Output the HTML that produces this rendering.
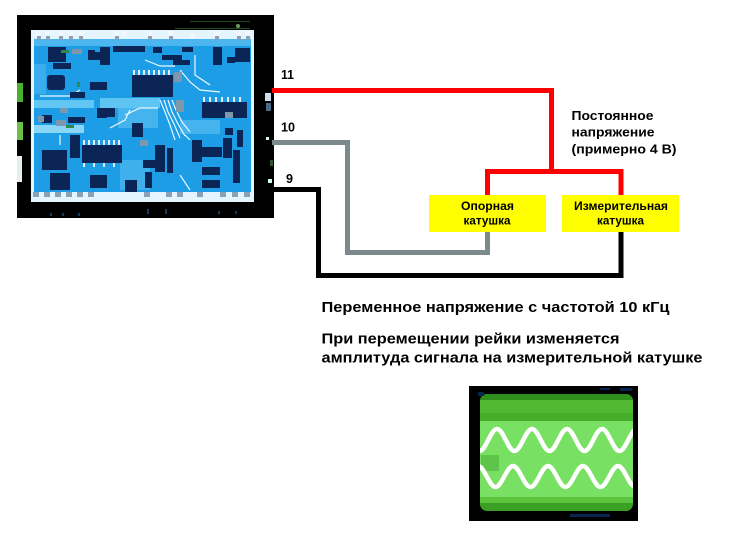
<!DOCTYPE html>
<html>
<head>
<meta charset="utf-8">
<style>
  html, body { margin: 0; padding: 0; background: #ffffff; }
  body { width: 731px; height: 549px; overflow: hidden; }
  svg { display: block; }
  text { font-family: "Liberation Sans", "DejaVu Sans", sans-serif; font-weight: bold; fill: #000; }
</style>
</head>
<body>
<svg width="731" height="549" viewBox="0 0 731 549" xmlns="http://www.w3.org/2000/svg">
  <rect x="0" y="0" width="731" height="549" fill="#ffffff"/>

  <!-- ================= PCB photo ================= -->
  <rect x="17" y="15" width="257" height="203" fill="#000000"/>
  <rect x="17" y="83" width="6" height="19" fill="#4caf30"/>
  <rect x="17" y="122" width="6" height="18" fill="#6cc048"/>
  <rect x="17" y="156" width="5" height="26" fill="#e6eef0"/>
  <rect x="190" y="21" width="60" height="1" fill="#1c4a1c"/>
  <rect x="175" y="28" width="75" height="1" fill="#1c4a1c"/>
  <circle cx="238" cy="26" r="2" fill="#6a9a5a"/>
  <rect x="265" y="93" width="6" height="8" fill="#d0dde8"/>
  <rect x="266" y="103" width="5" height="8" fill="#4a6a8a"/>
  <rect x="266" y="137" width="3" height="3" fill="#cfe"/>
  <rect x="268" y="179" width="4" height="4" fill="#cfe"/>
  <rect x="270" y="160" width="3" height="6" fill="#2a5a2a"/>

  <!-- board -->
  <rect x="31" y="30" width="223" height="172" fill="#e4f5ff"/>
  <rect x="34" y="39" width="217" height="153" fill="#1c9de6"/>
  <rect x="34" y="39" width="217" height="7" fill="#4db6ee"/>
  <rect x="100" y="98" width="60" height="10" fill="#5ec4f2"/>
  <rect x="34" y="100" width="60" height="8" fill="#62c6f2"/>
  <rect x="34" y="125" width="50" height="8" fill="#8ad6f6"/>
  <rect x="120" y="160" width="30" height="30" fill="#3fb0ec"/>
  <rect x="118" y="108" width="40" height="20" fill="#45b4ee"/>
  <rect x="180" y="120" width="40" height="14" fill="#45b4ee"/>
  <rect x="34" y="64" width="12" height="30" fill="#3aaeec"/>

  <g stroke="#e8f8ff" stroke-width="1.2" fill="none">
    <path d="M160 100 L165 112 L170 125 L175 140"/>
    <path d="M164 100 L168 112 L174 124 L180 138"/>
    <path d="M168 100 L172 112 L178 124 L185 136"/>
    <path d="M172 100 L176 110 L182 122 L190 132"/>
    <path d="M180 70 L190 82 L200 90 L220 92"/>
    <path d="M125 115 L140 108 L158 108"/>
    <path d="M180 175 L190 190"/>
    <path d="M195 55 L195 75 L210 85"/>
    <path d="M40 96 L70 96 L80 90"/>
    <path d="M145 60 L160 66 L175 66"/>
    <path d="M110 128 L125 120 L130 110"/>
    <path d="M185 135 L190 140"/>
    <path d="M60 135 L60 145"/>
  </g>

  <g fill="#f2f8ff">
    <rect x="36" y="31" width="5" height="5"/>
    <rect x="45" y="31" width="5" height="5"/>
    <rect x="58" y="31" width="5" height="5"/>
    <rect x="68" y="31" width="5" height="5"/>
    <rect x="78" y="31" width="5" height="5"/>
    <rect x="114" y="31" width="5" height="5"/>
    <rect x="122" y="31" width="5" height="5"/>
    <rect x="147" y="31" width="5" height="5"/>
    <rect x="168" y="31" width="5" height="5"/>
    <rect x="190" y="33" width="5" height="5"/>
    <rect x="214" y="31" width="5" height="5"/>
    <rect x="236" y="31" width="5" height="5"/>
    <rect x="245" y="31" width="5" height="5"/>
  </g>
  <g fill="#8aa2b8">
    <rect x="37" y="36" width="4" height="4"/>
    <rect x="46" y="36" width="4" height="4"/>
    <rect x="59" y="36" width="4" height="4"/>
    <rect x="69" y="36" width="4" height="4"/>
    <rect x="79" y="36" width="4" height="4"/>
    <rect x="115" y="36" width="4" height="4"/>
    <rect x="148" y="36" width="4" height="4"/>
    <rect x="169" y="36" width="4" height="4"/>
    <rect x="215" y="36" width="4" height="4"/>
    <rect x="237" y="36" width="4" height="4"/>
    <rect x="246" y="36" width="4" height="4"/>
  </g>
  <g fill="#8aa2b8">
    <rect x="33" y="192" width="6" height="5"/>
    <rect x="44" y="192" width="6" height="5"/>
    <rect x="55" y="192" width="6" height="5"/>
    <rect x="66" y="192" width="6" height="5"/>
    <rect x="77" y="192" width="6" height="5"/>
    <rect x="88" y="192" width="6" height="5"/>
    <rect x="144" y="192" width="6" height="5"/>
    <rect x="166" y="192" width="6" height="5"/>
    <rect x="177" y="192" width="6" height="5"/>
    <rect x="197" y="192" width="6" height="5"/>
    <rect x="220" y="192" width="6" height="5"/>
    <rect x="232" y="192" width="6" height="5"/>
    <rect x="244" y="192" width="6" height="5"/>
  </g>
  <g fill="#1a3a5a">
    <rect x="50" y="213" width="2" height="3"/>
    <rect x="62" y="213" width="2" height="3"/>
    <rect x="78" y="213" width="2" height="3"/>
    <rect x="147" y="209" width="2" height="5"/>
    <rect x="165" y="209" width="2" height="5"/>
    <rect x="218" y="211" width="2" height="3"/>
    <rect x="235" y="211" width="2" height="3"/>
  </g>

  <g fill="#0b2656">
    <rect x="48" y="47" width="18" height="15"/>
    <rect x="47" y="75" width="18" height="15" rx="3"/>
    <rect x="53" y="63" width="18" height="6"/>
    <rect x="88" y="50" width="7" height="10"/>
    <rect x="100" y="47" width="10" height="18"/>
    <rect x="113" y="46" width="32" height="6"/>
    <rect x="90" y="82" width="17" height="8"/>
    <rect x="70" y="92" width="15" height="6"/>
    <rect x="132" y="75" width="41" height="22"/>
    <rect x="97" y="108" width="10" height="10"/>
    <rect x="202" y="102" width="45" height="16"/>
    <rect x="213" y="47" width="9" height="18"/>
    <rect x="227" y="57" width="8" height="6"/>
    <rect x="235" y="48" width="15" height="14"/>
    <rect x="162" y="55" width="20" height="5"/>
    <rect x="173" y="60" width="17" height="5"/>
    <rect x="153" y="47" width="9" height="6"/>
    <rect x="182" y="47" width="11" height="5"/>
    <rect x="42" y="150" width="25" height="20"/>
    <rect x="50" y="173" width="20" height="17"/>
    <rect x="82" y="145" width="40" height="18"/>
    <rect x="70" y="135" width="10" height="23"/>
    <rect x="90" y="175" width="17" height="13"/>
    <rect x="192" y="140" width="10" height="22"/>
    <rect x="202" y="147" width="20" height="10"/>
    <rect x="223" y="138" width="9" height="20"/>
    <rect x="233" y="150" width="7" height="33"/>
    <rect x="202" y="167" width="18" height="8"/>
    <rect x="202" y="180" width="18" height="8"/>
    <rect x="155" y="145" width="10" height="27"/>
    <rect x="167" y="148" width="6" height="25"/>
    <rect x="143" y="160" width="12" height="8"/>
    <rect x="145" y="172" width="7" height="16"/>
    <rect x="237" y="130" width="6" height="17"/>
    <rect x="225" y="128" width="8" height="7"/>
    <rect x="132" y="123" width="11" height="14"/>
    <rect x="68" y="117" width="17" height="6"/>
    <rect x="107" y="108" width="8" height="9"/>
    <rect x="88" y="52" width="12" height="8"/>
    <rect x="125" y="180" width="12" height="12"/>
    <rect x="42" y="115" width="10" height="8"/>
  </g>
  <g fill="#dfeef8">
    <rect x="133" y="70" width="2" height="5"/>
    <rect x="138" y="70" width="2" height="5"/>
    <rect x="143" y="70" width="2" height="5"/>
    <rect x="148" y="70" width="2" height="5"/>
    <rect x="153" y="70" width="2" height="5"/>
    <rect x="158" y="70" width="2" height="5"/>
    <rect x="163" y="70" width="2" height="5"/>
    <rect x="168" y="70" width="2" height="5"/>
    <rect x="203" y="97" width="2" height="5"/>
    <rect x="209" y="97" width="2" height="5"/>
    <rect x="215" y="97" width="2" height="5"/>
    <rect x="221" y="97" width="2" height="5"/>
    <rect x="227" y="97" width="2" height="5"/>
    <rect x="233" y="97" width="2" height="5"/>
    <rect x="239" y="97" width="2" height="5"/>
    <rect x="83" y="140" width="2" height="5"/>
    <rect x="88" y="140" width="2" height="5"/>
    <rect x="93" y="140" width="2" height="5"/>
    <rect x="98" y="140" width="2" height="5"/>
    <rect x="103" y="140" width="2" height="5"/>
    <rect x="108" y="140" width="2" height="5"/>
    <rect x="113" y="140" width="2" height="5"/>
    <rect x="118" y="140" width="2" height="5"/>
    <rect x="83" y="163" width="2" height="4"/>
    <rect x="93" y="163" width="2" height="4"/>
    <rect x="103" y="163" width="2" height="4"/>
    <rect x="113" y="163" width="2" height="4"/>
  </g>
  <g fill="#7d97ad">
    <rect x="72" y="49" width="10" height="5"/>
    <rect x="174" y="72" width="8" height="10"/>
    <rect x="176" y="100" width="8" height="12"/>
    <rect x="38" y="116" width="6" height="6"/>
    <rect x="56" y="120" width="10" height="6"/>
    <rect x="140" y="140" width="8" height="6"/>
    <rect x="225" y="112" width="8" height="6"/>
    <rect x="60" y="108" width="8" height="5"/>
  </g>
  <rect x="61" y="50" width="8" height="3" fill="#2e8a4a"/>
  <rect x="66" y="125" width="8" height="3" fill="#2e8a4a"/>
  <rect x="77" y="82" width="3" height="5" fill="#2e8a4a"/>

  <!-- ================= wires ================= -->
  <g fill="none" stroke-width="5" stroke-linejoin="miter" stroke-linecap="butt">
    <polyline points="272,90.5 551.5,90.5 551.5,171.5" stroke="#ff0000"/>
    <polyline points="487.5,195 487.5,171.5 621,171.5 621,195" stroke="#ff0000"/>
    <polyline points="272,142.5 347.5,142.5 347.5,252.5 487.5,252.5 487.5,232" stroke="#7b8b8b"/>
    <polyline points="273,189.5 318.5,189.5 318.5,275.5 621,275.5 621,232" stroke="#000000"/>
  </g>

  <text x="281" y="79" font-size="13" textLength="13" lengthAdjust="spacingAndGlyphs">11</text>
  <text x="281" y="131.5" font-size="13" textLength="14" lengthAdjust="spacingAndGlyphs">10</text>
  <text x="286" y="183" font-size="13" textLength="7" lengthAdjust="spacingAndGlyphs">9</text>

  <rect x="429" y="195" width="117" height="37" fill="#ffff00"/>
  <rect x="562" y="195" width="117" height="37" fill="#ffff00"/>
  <text x="461" y="210" font-size="11.5" textLength="53" lengthAdjust="spacingAndGlyphs" fill="#0a1a0a">Опорная</text>
  <text x="463.5" y="224.5" font-size="11.5" textLength="47" lengthAdjust="spacingAndGlyphs" fill="#0a1a0a">катушка</text>
  <text x="574" y="210" font-size="11.5" textLength="94" lengthAdjust="spacingAndGlyphs" fill="#0a1a0a">Измерительная</text>
  <text x="597" y="224.5" font-size="11.5" textLength="47" lengthAdjust="spacingAndGlyphs" fill="#0a1a0a">катушка</text>

  <text x="571.5" y="120" font-size="13" textLength="82" lengthAdjust="spacingAndGlyphs">Постоянное</text>
  <text x="571.5" y="136.5" font-size="13" textLength="83" lengthAdjust="spacingAndGlyphs">напряжение</text>
  <text x="571.5" y="153.5" font-size="13" textLength="105" lengthAdjust="spacingAndGlyphs">(примерно 4 В)</text>

  <text x="321.5" y="312" font-size="14.5" textLength="348" lengthAdjust="spacingAndGlyphs">Переменное напряжение с частотой 10 кГц</text>
  <text x="321.5" y="343.5" font-size="15" textLength="298" lengthAdjust="spacingAndGlyphs">При перемещении рейки изменяется</text>
  <text x="321.5" y="362.5" font-size="15" textLength="381" lengthAdjust="spacingAndGlyphs">амплитуда сигнала на измерительной катушке</text>

  <!-- ================= oscilloscope ================= -->
  <defs>
    <clipPath id="scr">
      <rect x="480" y="394" width="153" height="117" rx="7"/>
    </clipPath>
  </defs>
  <rect x="469" y="386" width="169" height="135" fill="#000000"/>
  <rect x="480" y="394" width="153" height="117" rx="7" fill="#3a9f22"/>
  <g clip-path="url(#scr)">
    <rect x="480" y="394" width="153" height="6" fill="#2f8f1c"/>
    <rect x="480" y="400" width="153" height="13" fill="#52b832"/>
    <rect x="480" y="413" width="153" height="8" fill="#45ad2a"/>
    <rect x="480" y="421" width="153" height="76" fill="#78e062"/>
    <rect x="480" y="497" width="153" height="6" fill="#5cc43e"/>
    <rect x="481" y="455" width="18" height="16" fill="#5fc44a"/>
    <path d="M479.5,451 C485.87,451 490.63,429 497,429 S508.13,451 514.5,451 S525.63,429 532,429 S543.13,451 549.5,451 S560.63,429 567,429 S578.13,451 584.5,451 S595.63,429 602,429 S613.13,451 619.5,451 S630.63,429 637,429" fill="none" stroke="#ffffff" stroke-width="4.5"/>
    <path d="M478,466 C484.37,466 489.13,487 495.5,487 S506.63,466 513,466 S524.13,487 530.5,487 S541.63,466 548,466 S559.13,487 565.5,487 S576.63,466 583,466 S594.13,487 600.5,487 S611.63,466 618,466 S629.13,487 635.5,487" fill="none" stroke="#ffffff" stroke-width="4.5"/>
  </g>
  <g fill="#0a2450">
    <rect x="478" y="392" width="6" height="4"/>
    <rect x="600" y="388" width="10" height="2"/>
    <rect x="570" y="514" width="40" height="3"/>
    <rect x="620" y="388" width="12" height="3"/>
  </g>
</svg>
</body>
</html>
